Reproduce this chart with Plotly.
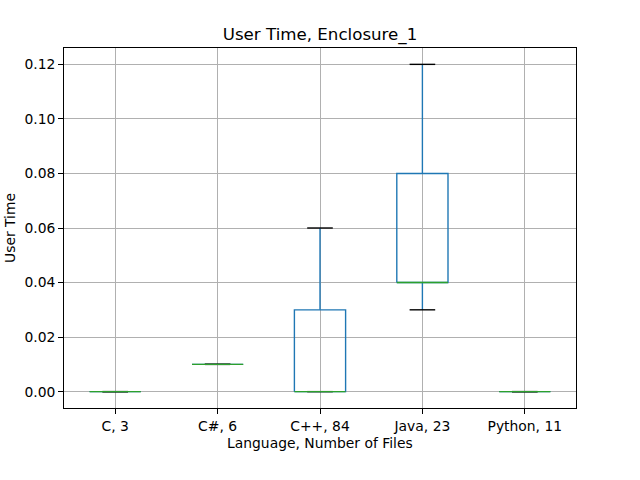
import plotly.graph_objects as go

labels = ["C, 3", "C#, 6", "C++, 84", "Java, 23", "Python, 11"]
q1 = [0.0, 0.01, 0.0, 0.04, 0.0]
median = [0.0, 0.01, 0.0, 0.04, 0.0]
q3 = [0.0, 0.01, 0.03, 0.08, 0.0]
whislo = [0.0, 0.01, 0.0, 0.03, 0.0]
whishi = [0.0, 0.01, 0.06, 0.12, 0.0]

BOX_HW = 0.25
CAP_HW = 0.125
LW = 1.39
BLUE = "#1f77b4"
GREEN = "#2ca02c"
FONT = "DejaVu Sans"
FS = 13.89

bx, by, wx, wy, cx, cy, mx, my = [], [], [], [], [], [], [], []
for i in range(len(labels)):
    p = i + 1
    bx += [p - BOX_HW, p + BOX_HW, p + BOX_HW, p - BOX_HW, p - BOX_HW, None]
    by += [q1[i], q1[i], q3[i], q3[i], q1[i], None]
    wx += [p, p, None, p, p, None]
    wy += [q1[i], whislo[i], None, q3[i], whishi[i], None]
    cx += [p - CAP_HW, p + CAP_HW, None, p - CAP_HW, p + CAP_HW, None]
    cy += [whislo[i], whislo[i], None, whishi[i], whishi[i], None]
    mx += [p - BOX_HW, p + BOX_HW, None]
    my += [median[i], median[i], None]

fig = go.Figure()
fig.add_trace(go.Scatter(x=bx, y=by, mode="lines", line=dict(color=BLUE, width=LW), hoverinfo="skip"))
fig.add_trace(go.Scatter(x=wx, y=wy, mode="lines", line=dict(color=BLUE, width=LW), hoverinfo="skip"))
fig.add_trace(go.Scatter(x=cx, y=cy, mode="lines", line=dict(color="black", width=LW), hoverinfo="skip"))
fig.add_trace(go.Scatter(x=mx, y=my, mode="lines", line=dict(color=GREEN, width=LW), hoverinfo="skip"))

fig.update_layout(
    width=640, height=480,
    margin=dict(l=64, r=64, t=48, b=72),
    paper_bgcolor="white", plot_bgcolor="white",
    showlegend=False,
    font=dict(family=FONT, size=FS, color="black"),
    title=dict(text="User Time, Enclosure_1", x=0.5, xanchor="center",
               xref="paper", yref="container", y=1 - 34 / 480, yanchor="middle",
               font=dict(family=FONT, size=16.67, color="black")),
)
fig.update_xaxes(
    range=[0.5, 5.5], tickmode="array", tickvals=list(range(1, len(labels) + 1)), ticktext=labels,
    showgrid=True, gridcolor="#b0b0b0", gridwidth=0.8, zeroline=False,
    showline=True, linecolor="black", linewidth=1, mirror=True,
    ticks="outside", ticklen=4.86, tickcolor="black", tickwidth=1,
    tickfont=dict(family=FONT, size=FS, color="black"),
)
fig.update_yaxes(
    range=[-0.006, 0.126], tickmode="array",
    tickvals=[0.0, 0.02, 0.04, 0.06, 0.08, 0.10, 0.12],
    ticktext=["0.00", "0.02", "0.04", "0.06", "0.08", "0.10", "0.12"],
    showgrid=True, gridcolor="#b0b0b0", gridwidth=0.8, zeroline=False,
    showline=True, linecolor="black", linewidth=1, mirror=True,
    ticks="outside", ticklen=4.86, tickcolor="black", tickwidth=1,
    tickfont=dict(family=FONT, size=FS, color="black"),
)
fig.add_annotation(text="Language, Number of Files", xref="paper", yref="paper",
                   x=0.5, y=-(443 - 408) / 360, xanchor="center", yanchor="middle",
                   showarrow=False, font=dict(family=FONT, size=FS, color="black"))
fig.add_annotation(text="User Time", xref="paper", yref="paper",
                   x=-(64 - 10) / 512, y=0.5, xanchor="center", yanchor="middle", textangle=-90,
                   showarrow=False, font=dict(family=FONT, size=FS, color="black"))

fig.write_html("out.html")
